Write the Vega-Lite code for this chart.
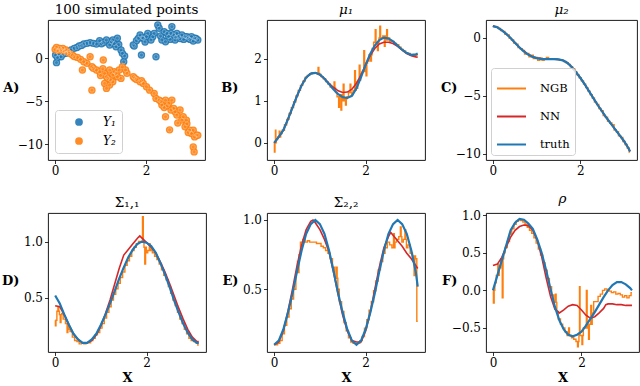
{
"$schema": "https://vega.github.io/schema/vega-lite/v6.json",
"background": "white",
"padding": {"left": 1, "top": 2, "right": 2, "bottom": 2},
"config": {
 "font": "DejaVu Serif",
 "view": {"stroke": "#000", "strokeWidth": 0.9},
 "axis": {"domain": false, "grid": false, "ticks": true, "tickColor": "#000", "tickSize": 3.5, "tickWidth": 0.8, "labelColor": "#000", "labelFontSize": 12, "labelFont": "DejaVu Serif", "labelPadding": 2, "titleFont": "DejaVu Serif", "titleFontWeight": "bold", "titleFontSize": 13, "titleColor": "#000"},
 "axisY": {"titleAngle": 0, "titleAlign": "right", "titleBaseline": "middle", "titleX": -29, "titleY": 67},
 "axisX": {"titlePadding": 3},
 "title": {"font": "DejaVu Serif", "fontSize": 13.5, "fontWeight": "normal", "color": "#000", "offset": 4, "anchor": "middle"},
 "legend": {"labelFont": "DejaVu Serif", "labelColor": "#000"}
},
"datasets": {
 "A": [
  {"x":0.01,"y":0.38,"s":"Y₁"},{"x":0.03,"y":-0.5,"s":"Y₁"},{"x":0.05,"y":0.1,"s":"Y₁"},{"x":0.08,"y":0.55,"s":"Y₁"},{"x":0.13,"y":0.19,"s":"Y₁"},{"x":0.18,"y":0.5,"s":"Y₁"},{"x":0.24,"y":0.58,"s":"Y₁"},{"x":0.3,"y":0.8,"s":"Y₁"},{"x":0.35,"y":0.97,"s":"Y₁"},{"x":0.42,"y":1.16,"s":"Y₁"},{"x":0.48,"y":1.25,"s":"Y₁"},{"x":0.53,"y":1.43,"s":"Y₁"},{"x":0.58,"y":1.5,"s":"Y₁"},{"x":0.63,"y":1.66,"s":"Y₁"},{"x":0.7,"y":1.74,"s":"Y₁"},{"x":0.77,"y":1.82,"s":"Y₁"},{"x":0.84,"y":1.74,"s":"Y₁"},{"x":0.91,"y":1.66,"s":"Y₁"},{"x":0.98,"y":2.05,"s":"Y₁"},{"x":1.02,"y":1.7,"s":"Y₁"},{"x":1.06,"y":1.82,"s":"Y₁"},{"x":1.13,"y":2.13,"s":"Y₁"},{"x":1.2,"y":1.55,"s":"Y₁"},{"x":1.24,"y":1.9,"s":"Y₁"},{"x":1.27,"y":2.13,"s":"Y₁"},{"x":1.3,"y":1.7,"s":"Y₁"},{"x":1.34,"y":1.35,"s":"Y₁"},{"x":1.37,"y":2.33,"s":"Y₁"},{"x":1.4,"y":1.6,"s":"Y₁"},{"x":1.45,"y":0.97,"s":"Y₁"},{"x":1.48,"y":0.58,"s":"Y₁"},{"x":1.51,"y":-0.4,"s":"Y₁"},{"x":1.53,"y":0.27,"s":"Y₁"},{"x":1.72,"y":1.55,"s":"Y₁"},{"x":1.74,"y":1.43,"s":"Y₁"},{"x":1.79,"y":2.05,"s":"Y₁"},{"x":1.83,"y":2.3,"s":"Y₁"},{"x":1.87,"y":2.71,"s":"Y₁"},{"x":1.9,"y":0.38,"s":"Y₁"},{"x":1.92,"y":2.4,"s":"Y₁"},{"x":1.94,"y":2.33,"s":"Y₁"},{"x":1.98,"y":1.9,"s":"Y₁"},{"x":2.01,"y":2.52,"s":"Y₁"},{"x":2.04,"y":2.9,"s":"Y₁"},{"x":2.11,"y":2.13,"s":"Y₁"},{"x":2.15,"y":2.5,"s":"Y₁"},{"x":2.18,"y":2.9,"s":"Y₁"},{"x":2.22,"y":0.19,"s":"Y₁"},{"x":2.26,"y":3.87,"s":"Y₁"},{"x":2.29,"y":3.49,"s":"Y₁"},{"x":2.32,"y":2.6,"s":"Y₁"},{"x":2.35,"y":2.13,"s":"Y₁"},{"x":2.4,"y":3.1,"s":"Y₁"},{"x":2.43,"y":1.93,"s":"Y₁"},{"x":2.46,"y":2.9,"s":"Y₁"},{"x":2.5,"y":2.52,"s":"Y₁"},{"x":2.53,"y":2.2,"s":"Y₁"},{"x":2.55,"y":2.9,"s":"Y₁"},{"x":2.57,"y":3.68,"s":"Y₁"},{"x":2.61,"y":2.71,"s":"Y₁"},{"x":2.64,"y":2.13,"s":"Y₁"},{"x":2.65,"y":2.45,"s":"Y₁"},{"x":2.68,"y":2.9,"s":"Y₁"},{"x":2.72,"y":2.52,"s":"Y₁"},{"x":2.75,"y":2.3,"s":"Y₁"},{"x":2.79,"y":2.71,"s":"Y₁"},{"x":2.83,"y":2.2,"s":"Y₁"},{"x":2.86,"y":2.52,"s":"Y₁"},{"x":2.9,"y":2.5,"s":"Y₁"},{"x":2.93,"y":2.33,"s":"Y₁"},{"x":2.97,"y":2.2,"s":"Y₁"},{"x":3.0,"y":2.52,"s":"Y₁"},{"x":3.04,"y":2.0,"s":"Y₁"},{"x":3.07,"y":2.33,"s":"Y₁"},{"x":3.1,"y":2.3,"s":"Y₁"},{"x":3.14,"y":2.13,"s":"Y₁"},
  {"x":0.0,"y":1.04,"s":"Y₂"},{"x":0.03,"y":1.27,"s":"Y₂"},{"x":0.06,"y":0.9,"s":"Y₂"},{"x":0.1,"y":1.16,"s":"Y₂"},{"x":0.13,"y":1.0,"s":"Y₂"},{"x":0.17,"y":1.16,"s":"Y₂"},{"x":0.2,"y":0.85,"s":"Y₂"},{"x":0.24,"y":0.97,"s":"Y₂"},{"x":0.31,"y":0.58,"s":"Y₂"},{"x":0.38,"y":0.38,"s":"Y₂"},{"x":0.42,"y":0.2,"s":"Y₂"},{"x":0.49,"y":0.11,"s":"Y₂"},{"x":0.56,"y":-0.12,"s":"Y₂"},{"x":0.6,"y":-1.36,"s":"Y₂"},{"x":0.63,"y":-0.4,"s":"Y₂"},{"x":0.7,"y":-0.58,"s":"Y₂"},{"x":0.77,"y":0.19,"s":"Y₂"},{"x":0.81,"y":-0.98,"s":"Y₂"},{"x":0.84,"y":-1.16,"s":"Y₂"},{"x":0.91,"y":-1.36,"s":"Y₂"},{"x":0.98,"y":-1.56,"s":"Y₂"},{"x":1.0,"y":-2.0,"s":"Y₂"},{"x":1.05,"y":-1.2,"s":"Y₂"},{"x":1.06,"y":-0.2,"s":"Y₂"},{"x":1.09,"y":-1.74,"s":"Y₂"},{"x":1.13,"y":-2.14,"s":"Y₂"},{"x":1.16,"y":-2.33,"s":"Y₂"},{"x":1.2,"y":-1.36,"s":"Y₂"},{"x":1.22,"y":-2.5,"s":"Y₂"},{"x":1.27,"y":-1.94,"s":"Y₂"},{"x":1.3,"y":-1.56,"s":"Y₂"},{"x":1.34,"y":-1.74,"s":"Y₂"},{"x":1.37,"y":-2.14,"s":"Y₂"},{"x":1.41,"y":-1.36,"s":"Y₂"},{"x":1.45,"y":-2.33,"s":"Y₂"},{"x":1.48,"y":-0.98,"s":"Y₂"},{"x":0.81,"y":-3.69,"s":"Y₂"},{"x":1.13,"y":-3.49,"s":"Y₂"},{"x":1.09,"y":-2.91,"s":"Y₂"},{"x":1.2,"y":-3.1,"s":"Y₂"},{"x":1.27,"y":-2.72,"s":"Y₂"},{"x":1.55,"y":-1.36,"s":"Y₂"},{"x":1.58,"y":-1.74,"s":"Y₂"},{"x":1.72,"y":-2.14,"s":"Y₂"},{"x":1.75,"y":-2.3,"s":"Y₂"},{"x":1.79,"y":-2.45,"s":"Y₂"},{"x":1.87,"y":-2.72,"s":"Y₂"},{"x":1.9,"y":-2.6,"s":"Y₂"},{"x":1.94,"y":-2.91,"s":"Y₂"},{"x":2.01,"y":-3.3,"s":"Y₂"},{"x":2.08,"y":-3.69,"s":"Y₂"},{"x":2.18,"y":-4.07,"s":"Y₂"},{"x":2.22,"y":-4.65,"s":"Y₂"},{"x":2.29,"y":-4.85,"s":"Y₂"},{"x":2.33,"y":-5.0,"s":"Y₂"},{"x":2.35,"y":-5.43,"s":"Y₂"},{"x":2.4,"y":-5.7,"s":"Y₂"},{"x":2.43,"y":-4.85,"s":"Y₂"},{"x":2.43,"y":-6.78,"s":"Y₂"},{"x":2.47,"y":-5.5,"s":"Y₂"},{"x":2.5,"y":-5.23,"s":"Y₂"},{"x":2.52,"y":-8.3,"s":"Y₂"},{"x":2.55,"y":-6.0,"s":"Y₂"},{"x":2.57,"y":-4.85,"s":"Y₂"},{"x":2.61,"y":-5.81,"s":"Y₂"},{"x":2.64,"y":-6.2,"s":"Y₂"},{"x":2.68,"y":-6.59,"s":"Y₂"},{"x":2.7,"y":-7.5,"s":"Y₂"},{"x":2.75,"y":-6.0,"s":"Y₂"},{"x":2.79,"y":-7.17,"s":"Y₂"},{"x":2.82,"y":-6.78,"s":"Y₂"},{"x":2.86,"y":-7.95,"s":"Y₂"},{"x":2.89,"y":-7.17,"s":"Y₂"},{"x":2.9,"y":-7.6,"s":"Y₂"},{"x":2.93,"y":-8.6,"s":"Y₂"},{"x":2.96,"y":-8.34,"s":"Y₂"},{"x":3.0,"y":-8.72,"s":"Y₂"},{"x":3.04,"y":-8.34,"s":"Y₂"},{"x":3.07,"y":-9.12,"s":"Y₂"},{"x":3.11,"y":-8.92,"s":"Y₂"},{"x":3.14,"y":-8.92,"s":"Y₂"},{"x":3.04,"y":-10.28,"s":"Y₂"},{"x":3.06,"y":-10.86,"s":"Y₂"}
 ],
 "B": [
  {"x":0,"truth":0.0,"NN":0.0,"NGB":0.0},{"x":0.05,"NGB":0.08},{"x":0.1,"truth":0.14,"NN":0.14,"NGB":0.14},{"x":0.15,"NGB":0.22},{"x":0.2,"truth":0.3,"NN":0.3,"NGB":0.3},{"x":0.25,"NGB":0.43},{"x":0.3,"truth":0.56,"NN":0.56,"NGB":0.56},{"x":0.35,"NGB":0.7},{"x":0.4,"truth":0.84,"NN":0.84,"NGB":0.84},{"x":0.45,"NGB":0.98},{"x":0.5,"truth":1.12,"NN":1.12,"NGB":1.12},{"x":0.55,"NGB":1.25},{"x":0.6,"truth":1.37,"NN":1.37,"NGB":1.37},{"x":0.65,"NGB":1.47},{"x":0.7,"truth":1.56,"NN":1.56,"NGB":1.56},{"x":0.75,"NGB":1.61},{"x":0.8,"truth":1.65,"NN":1.65,"NGB":1.65},{"x":0.85,"NGB":1.67},{"x":0.9,"truth":1.67,"NN":1.67,"NGB":1.67},{"x":0.95,"NGB":1.66},{"x":1.0,"truth":1.63,"NN":1.62,"NGB":1.63},{"x":1.05,"NGB":1.58},{"x":1.1,"truth":1.53,"NN":1.53,"NGB":1.53},{"x":1.15,"NGB":1.46},{"x":1.2,"truth":1.4,"NN":1.42,"NGB":1.4},{"x":1.25,"NGB":1.33},{"x":1.3,"truth":1.27,"NN":1.32,"NGB":1.3},{"x":1.35,"NGB":1.2},{"x":1.4,"truth":1.16,"NN":1.24,"NGB":1.1},{"x":1.45,"NGB":1.15},{"x":1.5,"truth":1.09,"NN":1.2,"NGB":1.0},{"x":1.55,"NGB":1.05},{"x":1.6,"truth":1.07,"NN":1.21,"NGB":1.1},{"x":1.65,"NGB":1.2},{"x":1.7,"truth":1.12,"NN":1.28,"NGB":1.15},{"x":1.75,"NGB":1.25},{"x":1.8,"truth":1.3,"NN":1.42,"NGB":1.45},{"x":1.85,"NGB":1.5},{"x":1.9,"truth":1.57,"NN":1.62,"NGB":1.65},{"x":1.95,"NGB":1.7},{"x":2.0,"truth":1.86,"NN":1.86,"NGB":1.9},{"x":2.05,"NGB":1.95},{"x":2.1,"truth":2.12,"NN":2.08,"NGB":2.1},{"x":2.15,"NGB":2.25},{"x":2.2,"truth":2.32,"NN":2.25,"NGB":2.4},{"x":2.25,"NGB":2.4},{"x":2.3,"truth":2.45,"NN":2.36,"NGB":2.5},{"x":2.35,"NGB":2.5},{"x":2.4,"truth":2.51,"NN":2.4,"NGB":2.55},{"x":2.45,"NGB":2.45},{"x":2.5,"truth":2.49,"NN":2.4,"NGB":2.5},{"x":2.55,"NGB":2.42},{"x":2.6,"truth":2.42,"NN":2.37,"NGB":2.42},{"x":2.65,"NGB":2.37},{"x":2.7,"truth":2.32,"NN":2.3,"NGB":2.34},{"x":2.75,"NGB":2.28},{"x":2.8,"truth":2.22,"NN":2.21,"NGB":2.23},{"x":2.85,"NGB":2.19},{"x":2.9,"truth":2.14,"NN":2.13,"NGB":2.15},{"x":2.95,"NGB":2.13},{"x":3.0,"truth":2.1,"NN":2.08,"NGB":2.1},{"x":3.05,"NGB":2.08},{"x":3.1,"truth":2.11,"NN":2.05,"NGB":2.09},{"x":3.14,"truth":2.13,"NN":2.04,"NGB":2.1},
  {"x":0.01,"NGB":-0.22},{"x":0.025,"NGB":0.0},{"x":0.03,"NGB":0.3},{"x":0.045,"NGB":0.0},{"x":0.12,"NGB":0.28},{"x":0.135,"NGB":0.14},{"x":0.97,"NGB":1.8},{"x":0.985,"NGB":1.66},{"x":1.32,"NGB":1.45},{"x":1.335,"NGB":1.3},{"x":1.42,"NGB":0.85},{"x":1.435,"NGB":1.1},{"x":1.47,"NGB":0.78},{"x":1.485,"NGB":1.15},{"x":1.52,"NGB":1.4},{"x":1.535,"NGB":1.0},{"x":1.57,"NGB":0.9},{"x":1.585,"NGB":1.05},{"x":1.67,"NGB":1.4},{"x":1.685,"NGB":1.2},{"x":1.77,"NGB":1.72},{"x":1.785,"NGB":1.25},{"x":1.82,"NGB":1.3},{"x":1.835,"NGB":1.45},{"x":1.87,"NGB":1.85},{"x":1.885,"NGB":1.5},{"x":1.97,"NGB":2.2},{"x":1.985,"NGB":1.7},{"x":2.02,"NGB":1.6},{"x":2.035,"NGB":1.9},{"x":2.12,"NGB":1.95},{"x":2.135,"NGB":2.1},{"x":2.22,"NGB":2.7},{"x":2.235,"NGB":2.4},{"x":2.27,"NGB":2.2},{"x":2.285,"NGB":2.4},{"x":2.32,"NGB":2.78},{"x":2.335,"NGB":2.5},{"x":2.42,"NGB":2.3},{"x":2.435,"NGB":2.55},{"x":2.47,"NGB":2.7},{"x":2.485,"NGB":2.45}
 ],
 "C": [
  {"x":0,"truth":1.0,"NN":1.0,"NGB":1.0},{"x":0.05,"NGB":0.98},{"x":0.1,"truth":0.9,"NN":0.9,"NGB":0.9},{"x":0.15,"NGB":0.8},{"x":0.2,"truth":0.65,"NN":0.65,"NGB":0.62},{"x":0.25,"NGB":0.55},{"x":0.3,"truth":0.35,"NN":0.35,"NGB":0.3},{"x":0.35,"NGB":0.25},{"x":0.4,"truth":0.0,"NN":0.0,"NGB":-0.05},{"x":0.45,"NGB":-0.2},{"x":0.5,"truth":-0.4,"NN":-0.4,"NGB":-0.45},{"x":0.55,"NGB":-0.55},{"x":0.6,"truth":-0.8,"NN":-0.8,"NGB":-0.85},{"x":0.65,"NGB":-0.95},{"x":0.7,"truth":-1.15,"NN":-1.12,"NGB":-1.1},{"x":0.75,"NGB":-1.4},{"x":0.8,"truth":-1.43,"NN":-1.42,"NGB":-1.35},{"x":0.85,"NGB":-1.65},{"x":0.9,"truth":-1.63,"NN":-1.62,"NGB":-1.5},{"x":0.95,"NGB":-1.8},{"x":1.0,"truth":-1.76,"NN":-1.75,"NGB":-1.7},{"x":1.05,"NGB":-1.95},{"x":1.1,"truth":-1.82,"NN":-1.8,"NGB":-1.75},{"x":1.15,"NGB":-1.95},{"x":1.2,"truth":-1.84,"NN":-1.83,"NGB":-1.8},{"x":1.25,"NGB":-1.7},{"x":1.3,"truth":-1.84,"NN":-1.84,"NGB":-1.85},{"x":1.35,"NGB":-1.82},{"x":1.4,"truth":-1.84,"NN":-1.85,"NGB":-1.85},{"x":1.45,"NGB":-1.83},{"x":1.5,"truth":-1.86,"NN":-1.87,"NGB":-1.88},{"x":1.55,"NGB":-1.9},{"x":1.6,"truth":-1.95,"NN":-1.95,"NGB":-1.95},{"x":1.65,"NGB":-2.05},{"x":1.7,"truth":-2.15,"NN":-2.15,"NGB":-2.15},{"x":1.75,"NGB":-2.3},{"x":1.8,"truth":-2.5,"NN":-2.5,"NGB":-2.5},{"x":1.85,"NGB":-2.7},{"x":1.9,"truth":-2.95,"NN":-2.95,"NGB":-2.95},{"x":1.95,"NGB":-3.2},{"x":2.0,"truth":-3.45,"NN":-3.45,"NGB":-3.45},{"x":2.05,"NGB":-3.72},{"x":2.1,"truth":-4.0,"NN":-4.0,"NGB":-4.0},{"x":2.15,"NGB":-4.3},{"x":2.2,"truth":-4.6,"NN":-4.6,"NGB":-4.6},{"x":2.25,"NGB":-4.9},{"x":2.3,"truth":-5.2,"NN":-5.2,"NGB":-5.2},{"x":2.35,"NGB":-5.55},{"x":2.4,"truth":-5.8,"NN":-5.8,"NGB":-5.75},{"x":2.45,"NGB":-6.1},{"x":2.5,"truth":-6.35,"NN":-6.35,"NGB":-6.3},{"x":2.55,"NGB":-6.7},{"x":2.6,"truth":-6.9,"NN":-6.9,"NGB":-6.85},{"x":2.65,"NGB":-7.2},{"x":2.7,"truth":-7.4,"NN":-7.4,"NGB":-7.35},{"x":2.75,"NGB":-7.5},{"x":2.8,"truth":-7.9,"NN":-7.9,"NGB":-7.95},{"x":2.85,"NGB":-8.1},{"x":2.9,"truth":-8.4,"NN":-8.4,"NGB":-8.45},{"x":2.95,"NGB":-8.6},{"x":3.0,"truth":-8.9,"NN":-8.9,"NGB":-8.95},{"x":3.05,"NGB":-9.2},{"x":3.1,"truth":-9.5,"NN":-9.5,"NGB":-9.5},{"x":3.14,"truth":-9.8,"NN":-9.8,"NGB":-9.85}
 ],
 "D": [
  {"x":0,"truth":0.52,"NN":0.43,"NGB":0.3},{"x":0.05,"NGB":0.38},{"x":0.1,"truth":0.45,"NN":0.42,"NGB":0.35},{"x":0.15,"NGB":0.36},{"x":0.2,"truth":0.35,"NN":0.35,"NGB":0.31},{"x":0.25,"NGB":0.27},{"x":0.3,"truth":0.26,"NN":0.26,"NGB":0.22},{"x":0.35,"NGB":0.2},{"x":0.4,"truth":0.18,"NN":0.18,"NGB":0.15},{"x":0.45,"NGB":0.12},{"x":0.5,"truth":0.13,"NN":0.13,"NGB":0.11},{"x":0.55,"NGB":0.09},{"x":0.6,"truth":0.1,"NN":0.1,"NGB":0.1},{"x":0.65,"NGB":0.09},{"x":0.7,"truth":0.1,"NN":0.1,"NGB":0.1},{"x":0.75,"NGB":0.1},{"x":0.8,"truth":0.13,"NN":0.12,"NGB":0.12},{"x":0.85,"NGB":0.14},{"x":0.9,"truth":0.18,"NN":0.17,"NGB":0.17},{"x":0.95,"NGB":0.19},{"x":1.0,"truth":0.26,"NN":0.25,"NGB":0.23},{"x":1.05,"NGB":0.27},{"x":1.1,"truth":0.35,"NN":0.36,"NGB":0.32},{"x":1.15,"NGB":0.37},{"x":1.2,"truth":0.45,"NN":0.48,"NGB":0.42},{"x":1.25,"NGB":0.48},{"x":1.3,"truth":0.56,"NN":0.62,"NGB":0.53},{"x":1.35,"NGB":0.58},{"x":1.4,"truth":0.67,"NN":0.76,"NGB":0.63},{"x":1.45,"NGB":0.68},{"x":1.5,"truth":0.77,"NN":0.88,"NGB":0.73},{"x":1.55,"NGB":0.79},{"x":1.6,"truth":0.86,"NN":0.93,"NGB":0.83},{"x":1.65,"NGB":0.87},{"x":1.7,"truth":0.93,"NN":0.98,"NGB":0.92},{"x":1.75,"NGB":0.95},{"x":1.8,"truth":0.98,"NN":1.03,"NGB":0.98},{"x":1.85,"NN":1.05,"NGB":1.0},{"x":1.9,"truth":1.0,"NN":1.03,"NGB":1.0},{"x":1.95,"NGB":0.95},{"x":2.0,"truth":0.99,"NN":0.99,"NGB":0.9},{"x":2.05,"NGB":0.92},{"x":2.1,"truth":0.96,"NN":0.95,"NGB":0.93},{"x":2.15,"NGB":0.9},{"x":2.2,"truth":0.9,"NN":0.9,"NGB":0.87},{"x":2.25,"NGB":0.84},{"x":2.3,"truth":0.81,"NN":0.82,"NGB":0.8},{"x":2.35,"NGB":0.75},{"x":2.4,"truth":0.71,"NN":0.73,"NGB":0.7},{"x":2.45,"NGB":0.66},{"x":2.5,"truth":0.6,"NN":0.63,"NGB":0.6},{"x":2.55,"NGB":0.54},{"x":2.6,"truth":0.48,"NN":0.52,"NGB":0.48},{"x":2.65,"NGB":0.43},{"x":2.7,"truth":0.37,"NN":0.41,"NGB":0.37},{"x":2.75,"NGB":0.31},{"x":2.8,"truth":0.27,"NN":0.31,"NGB":0.27},{"x":2.85,"NGB":0.22},{"x":2.9,"truth":0.19,"NN":0.22,"NGB":0.18},{"x":2.95,"NGB":0.14},{"x":3.0,"truth":0.13,"NN":0.15,"NGB":0.12},{"x":3.05,"NGB":0.11},{"x":3.1,"truth":0.1,"NN":0.11,"NGB":0.1},{"x":3.14,"truth":0.1,"NN":0.11,"NGB":0.08},
  {"x":0.01,"NGB":0.25},{"x":0.025,"NGB":0.3},{"x":0.07,"NGB":0.42},{"x":0.085,"NGB":0.38},{"x":0.12,"NGB":0.28},{"x":0.135,"NGB":0.35},{"x":0.27,"NGB":0.19},{"x":0.285,"NGB":0.27},{"x":1.92,"NGB":1.22},{"x":1.935,"NGB":1.0},{"x":1.97,"NGB":0.8},{"x":1.985,"NGB":0.95},{"x":2.07,"NGB":0.98},{"x":2.085,"NGB":0.92}
 ],
 "E": [
  {"x":0,"truth":0.1,"NN":0.1,"NGB":0.1},{"x":0.05,"NGB":0.1},{"x":0.1,"truth":0.13,"NN":0.12,"NGB":0.11},{"x":0.15,"NGB":0.13},{"x":0.2,"truth":0.21,"NN":0.2,"NGB":0.18},{"x":0.25,"NGB":0.24},{"x":0.3,"truth":0.33,"NN":0.34,"NGB":0.3},{"x":0.35,"NGB":0.36},{"x":0.4,"truth":0.47,"NN":0.5,"NGB":0.43},{"x":0.45,"NGB":0.5},{"x":0.5,"truth":0.63,"NN":0.67,"NGB":0.62},{"x":0.55,"NGB":0.75},{"x":0.6,"truth":0.78,"NN":0.82,"NGB":0.84},{"x":0.65,"NGB":0.86},{"x":0.7,"truth":0.9,"NN":0.93,"NGB":0.84},{"x":0.75,"NGB":0.85},{"x":0.8,"truth":0.97,"NN":0.99,"NGB":0.84},{"x":0.85,"NN":1.0,"NGB":0.84},{"x":0.9,"truth":1.0,"NN":0.98,"NGB":0.84},{"x":0.95,"NGB":0.83},{"x":1.0,"truth":0.97,"NN":0.93,"NGB":0.83},{"x":1.05,"NGB":0.81},{"x":1.1,"truth":0.9,"NN":0.86,"NGB":0.8},{"x":1.15,"NGB":0.78},{"x":1.2,"truth":0.78,"NN":0.77,"NGB":0.76},{"x":1.25,"NGB":0.72},{"x":1.3,"truth":0.63,"NN":0.62,"NGB":0.66},{"x":1.35,"NGB":0.58},{"x":1.4,"truth":0.47,"NN":0.46,"NGB":0.5},{"x":1.45,"NGB":0.41},{"x":1.5,"truth":0.33,"NN":0.31,"NGB":0.34},{"x":1.55,"NGB":0.26},{"x":1.6,"truth":0.21,"NN":0.2,"NGB":0.2},{"x":1.65,"NGB":0.15},{"x":1.7,"truth":0.13,"NN":0.13,"NGB":0.12},{"x":1.75,"NGB":0.11},{"x":1.8,"truth":0.1,"NN":0.12,"NGB":0.11},{"x":1.85,"NGB":0.11},{"x":1.9,"truth":0.13,"NN":0.12,"NGB":0.13},{"x":1.95,"NGB":0.16},{"x":2.0,"truth":0.21,"NN":0.2,"NGB":0.22},{"x":2.05,"NGB":0.28},{"x":2.1,"truth":0.33,"NN":0.33,"NGB":0.35},{"x":2.15,"NGB":0.41},{"x":2.2,"truth":0.47,"NN":0.5,"NGB":0.49},{"x":2.25,"NGB":0.56},{"x":2.3,"truth":0.63,"NN":0.66,"NGB":0.64},{"x":2.35,"NGB":0.7},{"x":2.4,"truth":0.78,"NN":0.8,"NGB":0.76},{"x":2.45,"NGB":0.8},{"x":2.5,"truth":0.9,"NN":0.88,"NGB":0.84},{"x":2.55,"NN":0.91,"NGB":0.82},{"x":2.6,"truth":0.97,"NN":0.89,"NGB":0.8},{"x":2.65,"NGB":0.84},{"x":2.7,"truth":1.0,"NN":0.85,"NGB":0.86},{"x":2.75,"NGB":0.88},{"x":2.8,"truth":0.97,"NN":0.81,"NGB":0.84},{"x":2.85,"NGB":0.86},{"x":2.9,"truth":0.9,"NN":0.76,"NGB":0.8},{"x":2.95,"NGB":0.82},{"x":3.0,"truth":0.78,"NN":0.72,"NGB":0.76},{"x":3.05,"NGB":0.74},{"x":3.1,"truth":0.62,"NN":0.67,"NGB":0.72},{"x":3.14,"truth":0.52,"NN":0.65,"NGB":0.27},
  {"x":0.52,"NGB":0.7},{"x":0.535,"NGB":0.62},{"x":1.37,"NGB":0.66},{"x":1.385,"NGB":0.58},{"x":2.62,"NGB":0.9},{"x":2.635,"NGB":0.8},{"x":2.77,"NGB":0.95},{"x":2.785,"NGB":0.88},{"x":2.87,"NGB":0.93},{"x":2.885,"NGB":0.86},{"x":3.07,"NGB":0.6},{"x":3.085,"NGB":0.74}
 ],
 "F": [
  {"x":0,"truth":0.0,"NN":0.33,"NGB":0.0},{"x":0.05,"NGB":0.1},{"x":0.1,"truth":0.2,"NN":0.35,"NGB":0.2},{"x":0.15,"NGB":0.3},{"x":0.2,"truth":0.4,"NN":0.44,"NGB":0.42},{"x":0.25,"NGB":0.5},{"x":0.3,"truth":0.6,"NN":0.58,"NGB":0.57},{"x":0.35,"NGB":0.65},{"x":0.4,"truth":0.8,"NN":0.71,"NGB":0.75},{"x":0.45,"NGB":0.82},{"x":0.5,"truth":0.9,"NN":0.8,"NGB":0.88},{"x":0.55,"NGB":0.92},{"x":0.6,"truth":0.95,"NN":0.85,"NGB":0.94},{"x":0.65,"NGB":0.93},{"x":0.7,"truth":0.94,"NN":0.87,"NGB":0.91},{"x":0.75,"NGB":0.88},{"x":0.8,"truth":0.89,"NN":0.86,"NGB":0.84},{"x":0.85,"NGB":0.8},{"x":0.9,"truth":0.82,"NN":0.8,"NGB":0.76},{"x":0.95,"NGB":0.7},{"x":1.0,"truth":0.68,"NN":0.67,"NGB":0.63},{"x":1.05,"NGB":0.55},{"x":1.1,"truth":0.5,"NN":0.45,"NGB":0.47},{"x":1.15,"NGB":0.37},{"x":1.2,"truth":0.27,"NN":0.17,"NGB":0.27},{"x":1.25,"NGB":0.16},{"x":1.3,"truth":0.02,"NN":-0.08,"NGB":0.05},{"x":1.35,"NGB":-0.06},{"x":1.4,"truth":-0.22,"NN":-0.25,"NGB":-0.16},{"x":1.45,"NGB":-0.28},{"x":1.5,"truth":-0.4,"NN":-0.3,"NGB":-0.38},{"x":1.55,"NGB":-0.45},{"x":1.6,"truth":-0.52,"NN":-0.26,"NGB":-0.5},{"x":1.65,"NGB":-0.55},{"x":1.7,"truth":-0.59,"NN":-0.21,"NGB":-0.6},{"x":1.75,"NGB":-0.6},{"x":1.8,"truth":-0.61,"NN":-0.19,"NGB":-0.63},{"x":1.85,"NGB":-0.65},{"x":1.9,"truth":-0.59,"NN":-0.2,"NGB":-0.68},{"x":1.95,"NGB":-0.6},{"x":2.0,"truth":-0.55,"NN":-0.26,"NGB":-0.6},{"x":2.05,"NGB":-0.5},{"x":2.1,"truth":-0.47,"NN":-0.33,"NGB":-0.5},{"x":2.15,"NGB":-0.45},{"x":2.2,"truth":-0.38,"NN":-0.37,"NGB":-0.45},{"x":2.25,"NGB":-0.3},{"x":2.3,"truth":-0.29,"NN":-0.35,"NGB":-0.15},{"x":2.35,"NGB":-0.15},{"x":2.4,"truth":-0.19,"NN":-0.3,"NGB":-0.08},{"x":2.45,"NGB":-0.05},{"x":2.5,"truth":-0.09,"NN":-0.24,"NGB":0.0},{"x":2.55,"NN":-0.19,"NGB":0.02},{"x":2.6,"truth":0.0,"NN":-0.18,"NGB":0.0},{"x":2.65,"NGB":-0.01},{"x":2.7,"truth":0.07,"NN":-0.18,"NGB":-0.03},{"x":2.75,"NGB":-0.02},{"x":2.8,"truth":0.11,"NN":-0.19,"NGB":-0.05},{"x":2.85,"NGB":-0.04},{"x":2.9,"truth":0.11,"NN":-0.19,"NGB":-0.06},{"x":2.95,"NGB":-0.09},{"x":3.0,"truth":0.08,"NN":-0.2,"NGB":-0.07},{"x":3.05,"NGB":-0.1},{"x":3.1,"truth":0.03,"NN":-0.2,"NGB":-0.07},{"x":3.14,"truth":0.0,"NN":-0.2,"NGB":-0.03},
  {"x":0.02,"NGB":-0.17},{"x":0.035,"NGB":0.0},{"x":0.12,"NGB":0.35},{"x":0.135,"NGB":0.2},{"x":0.22,"NGB":-0.1},{"x":0.235,"NGB":0.42},{"x":1.42,"NGB":-0.05},{"x":1.435,"NGB":-0.16},{"x":1.72,"NGB":-0.5},{"x":1.735,"NGB":-0.6},{"x":1.92,"NGB":-0.75},{"x":1.935,"NGB":-0.68},{"x":1.96,"NGB":0.05},{"x":1.975,"NGB":-0.6},{"x":2.02,"NGB":-0.72},{"x":2.035,"NGB":-0.6},{"x":2.12,"NGB":0.0},{"x":2.135,"NGB":-0.5},{"x":2.17,"NGB":-0.65},{"x":2.185,"NGB":-0.45},{"x":2.22,"NGB":-0.2},{"x":2.235,"NGB":-0.45}
 ]
},
"columns": 3,
"bounds": "flush",
"spacing": {"row": 53, "column": 61},
"resolve": {"scale": {"x": "independent", "y": "independent", "color": "independent"}, "legend": {"color": "independent"}},
"concat": [
  {"width": 157, "height": 140, "title": "100 simulated points", "data": {"name": "A"},
   "encoding": {
    "x": {"field": "x", "type": "quantitative", "scale": {"domain": [-0.157, 3.299], "nice": false, "zero": false}, "axis": {"values": [0, 2], "title": null}},
    "y": {"field": "y", "type": "quantitative", "scale": {"domain": [-11.8, 4.45], "nice": false, "zero": false}, "axis": {"values": [0, -5, -10], "format": "d", "title": "A)"}},
    "color": {"field": "s", "type": "nominal", "scale": {"domain": ["Y₁", "Y₂"], "range": ["#1f77b4", "#ff7f0e"]},
     "legend": {"title": null, "orient": "bottom-left", "offset": 7, "strokeColor": "#d0d0d0", "fillColor": "rgba(255,255,255,0.8)", "cornerRadius": 3, "padding": 6, "symbolType": "circle", "symbolSize": 60, "symbolOffset": 12, "labelOffset": 18, "labelFontSize": 12, "labelFontStyle": "italic", "rowPadding": 7, "symbolOpacity": 0.9}}
   },
   "layer": [
    {"mark": {"type": "point", "filled": true, "size": 55, "opacity": 0.9}},
    {"mark": {"type": "point", "filled": false, "size": 16, "strokeWidth": 0.7, "opacity": 0.4}, "encoding": {"color": {"value": "white"}}}
   ]
  },
  {"width": 158, "height": 140, "title": {"text": "μ₁", "fontStyle": "italic"}, "data": {"name": "B"},
   "transform": [{"fold": ["NGB", "NN", "truth"], "as": ["s", "v"]}, {"filter": {"field": "v", "valid": true}}],
   "encoding": {
    "x": {"field": "x", "type": "quantitative", "scale": {"domain": [-0.157, 3.299], "nice": false, "zero": false}, "axis": {"values": [0, 2], "title": null}},
    "y": {"field": "v", "type": "quantitative", "scale": {"domain": [-0.41, 2.93], "nice": false, "zero": false}, "axis": {"values": [0, 1, 2], "format": "d", "title": "B)"}},
    "color": {"field": "s", "type": "nominal", "scale": {"domain": ["NGB", "NN", "truth"], "range": ["#ff7f0e", "#d62728", "#1f77b4"]}, "legend": null}
   },
   "layer": [
    {"transform": [{"filter": {"field": "s", "equal": "NGB"}}], "mark": {"type": "line", "interpolate": "step", "strokeWidth": 1.4}},
    {"transform": [{"filter": {"field": "s", "equal": "NN"}}], "mark": {"type": "line", "strokeWidth": 1.6}},
    {"transform": [{"filter": {"field": "s", "equal": "truth"}}], "mark": {"type": "line", "strokeWidth": 2.2}}
   ]
  },
  {"width": 151, "height": 140, "title": {"text": "μ₂", "fontStyle": "italic"}, "data": {"name": "C"},
   "transform": [{"fold": ["NGB", "NN", "truth"], "as": ["s", "v"]}, {"filter": {"field": "v", "valid": true}}],
   "encoding": {
    "x": {"field": "x", "type": "quantitative", "scale": {"domain": [-0.157, 3.299], "nice": false, "zero": false}, "axis": {"values": [0, 2], "title": null}},
    "y": {"field": "v", "type": "quantitative", "scale": {"domain": [-10.54, 1.53], "nice": false, "zero": false}, "axis": {"values": [0, -5, -10], "format": "d", "title": "C)"}},
    "color": {"field": "s", "type": "nominal", "scale": {"domain": ["NGB", "NN", "truth"], "range": ["#ff7f0e", "#d62728", "#1f77b4"]},
     "legend": {"title": null, "orient": "bottom-left", "offset": 5, "strokeColor": "#d0d0d0", "fillColor": "rgba(255,255,255,0.8)", "cornerRadius": 3, "padding": 5, "symbolType": "stroke", "symbolSize": 840, "symbolStrokeWidth": 2, "labelOffset": 13, "labelFontSize": 11.5, "rowPadding": 7}}
   },
   "layer": [
    {"transform": [{"filter": {"field": "s", "equal": "NGB"}}], "mark": {"type": "line", "interpolate": "step", "strokeWidth": 1.4}},
    {"transform": [{"filter": {"field": "s", "equal": "NN"}}], "mark": {"type": "line", "strokeWidth": 1.6}},
    {"transform": [{"filter": {"field": "s", "equal": "truth"}}], "mark": {"type": "line", "strokeWidth": 2.2}}
   ]
  },
  {"width": 158, "height": 139, "title": "Σ₁,₁", "data": {"name": "D"},
   "transform": [{"fold": ["NGB", "NN", "truth"], "as": ["s", "v"]}, {"filter": {"field": "v", "valid": true}}],
   "encoding": {
    "x": {"field": "x", "type": "quantitative", "scale": {"domain": [-0.157, 3.299], "nice": false, "zero": false}, "axis": {"values": [0, 2], "title": "X"}},
    "y": {"field": "v", "type": "quantitative", "scale": {"domain": [0.018, 1.254], "nice": false, "zero": false}, "axis": {"values": [0.5, 1.0], "format": ".1f", "title": "D)"}},
    "color": {"field": "s", "type": "nominal", "scale": {"domain": ["NGB", "NN", "truth"], "range": ["#ff7f0e", "#d62728", "#1f77b4"]}, "legend": null}
   },
   "layer": [
    {"transform": [{"filter": {"field": "s", "equal": "NGB"}}], "mark": {"type": "line", "interpolate": "step", "strokeWidth": 1.4}},
    {"transform": [{"filter": {"field": "s", "equal": "NN"}}], "mark": {"type": "line", "strokeWidth": 1.6}},
    {"transform": [{"filter": {"field": "s", "equal": "truth"}}], "mark": {"type": "line", "strokeWidth": 2.2}}
   ]
  },
  {"width": 158, "height": 139, "title": "Σ₂,₂", "data": {"name": "E"},
   "transform": [{"fold": ["NGB", "NN", "truth"], "as": ["s", "v"]}, {"filter": {"field": "v", "valid": true}}],
   "encoding": {
    "x": {"field": "x", "type": "quantitative", "scale": {"domain": [-0.157, 3.299], "nice": false, "zero": false}, "axis": {"values": [0, 2], "title": "X"}},
    "y": {"field": "v", "type": "quantitative", "scale": {"domain": [0.048, 1.05], "nice": false, "zero": false}, "axis": {"values": [0.5, 1.0], "format": ".1f", "title": "E)"}},
    "color": {"field": "s", "type": "nominal", "scale": {"domain": ["NGB", "NN", "truth"], "range": ["#ff7f0e", "#d62728", "#1f77b4"]}, "legend": null}
   },
   "layer": [
    {"transform": [{"filter": {"field": "s", "equal": "NGB"}}], "mark": {"type": "line", "interpolate": "step", "strokeWidth": 1.4}},
    {"transform": [{"filter": {"field": "s", "equal": "NN"}}], "mark": {"type": "line", "strokeWidth": 1.6}},
    {"transform": [{"filter": {"field": "s", "equal": "truth"}}], "mark": {"type": "line", "strokeWidth": 2.2}}
   ]
  },
  {"width": 153, "height": 139, "title": {"text": "ρ", "fontStyle": "italic"}, "data": {"name": "F"},
   "transform": [{"fold": ["NGB", "NN", "truth"], "as": ["s", "v"]}, {"filter": {"field": "v", "valid": true}}],
   "encoding": {
    "x": {"field": "x", "type": "quantitative", "scale": {"domain": [-0.157, 3.299], "nice": false, "zero": false}, "axis": {"values": [0, 2], "title": "X"}},
    "y": {"field": "v", "type": "quantitative", "scale": {"domain": [-0.82, 1.03], "nice": false, "zero": false}, "axis": {"values": [-0.5, 0, 0.5, 1.0], "format": ".1f", "title": "F)"}},
    "color": {"field": "s", "type": "nominal", "scale": {"domain": ["NGB", "NN", "truth"], "range": ["#ff7f0e", "#d62728", "#1f77b4"]}, "legend": null}
   },
   "layer": [
    {"transform": [{"filter": {"field": "s", "equal": "NGB"}}], "mark": {"type": "line", "interpolate": "step", "strokeWidth": 1.4}},
    {"transform": [{"filter": {"field": "s", "equal": "NN"}}], "mark": {"type": "line", "strokeWidth": 1.6}},
    {"transform": [{"filter": {"field": "s", "equal": "truth"}}], "mark": {"type": "line", "strokeWidth": 2.2}}
   ]
  }
]
}
